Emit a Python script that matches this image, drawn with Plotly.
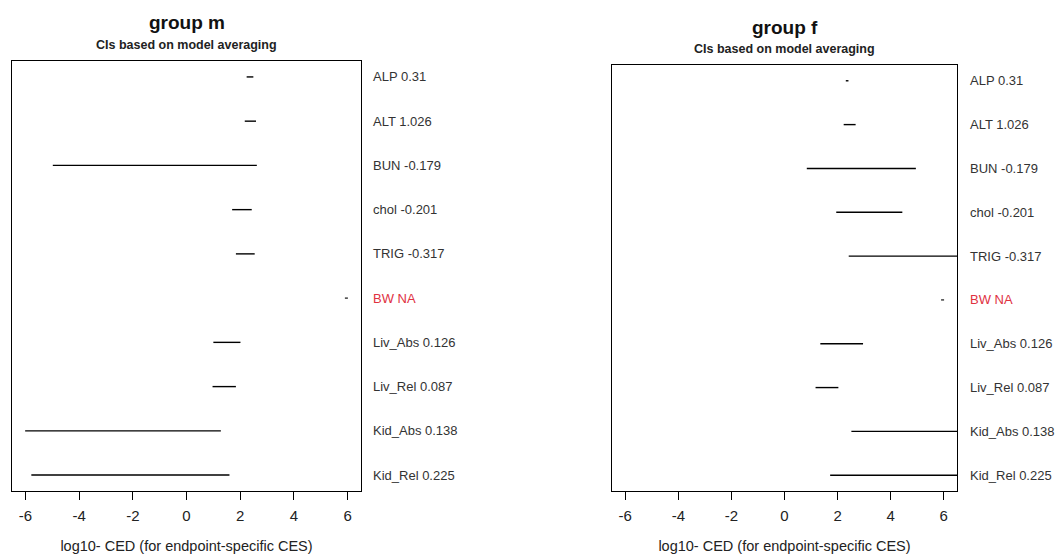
import plotly.graph_objects as go

W, H = 1057, 554

endpoints = ["ALP 0.31", "ALT 1.026", "BUN -0.179", "chol -0.201", "TRIG -0.317",
             "BW NA", "Liv_Abs 0.126", "Liv_Rel 0.087", "Kid_Abs 0.138", "Kid_Rel 0.225"]
label_colors = ["#333333"] * 5 + ["#e0313f"] + ["#333333"] * 4

# group m CI bounds (log10 CED)
m_lower = [2.24, 2.17, -4.98, 1.70, 1.84, 5.90, 1.00, 0.97, -6.01, -5.78]
m_upper = [2.49, 2.59, 2.62, 2.43, 2.54, 6.02, 2.01, 1.84, 1.28, 1.60]
# group f CI bounds (log10 CED)
f_lower = [2.31, 2.23, 0.84, 1.95, 2.42, 5.90, 1.35, 1.17, 2.52, 1.72]
f_upper = [2.41, 2.68, 4.95, 4.44, 7.50, 6.02, 2.96, 2.03, 7.50, 7.50]

x_ticks = [-6, -4, -2, 0, 2, 4, 6]
x_title = "log10- CED (for endpoint-specific CES)"

# layout geometry (pixels)
panels = [
    dict(name="group m", lower=m_lower, upper=m_upper, box=(12, 361, 61, 491),
         title_y=22, sub_y=45, label_x=371),
    dict(name="group f", lower=f_lower, upper=f_upper, box=(612, 957, 65, 491),
         title_y=27, sub_y=49, label_x=968),
]

fig = go.Figure()
annotations = []
font_fam = "Liberation Sans, Arial, sans-serif"

for i, p in enumerate(panels):
    sfx = "" if i == 0 else str(i + 1)
    xa, ya = "x" + sfx, "y" + sfx
    rows = list(range(1, len(endpoints) + 1))
    for r, lab, lo, hi in zip(rows, endpoints, p["lower"], p["upper"]):
        na = lab.endswith("NA")
        fig.add_trace(go.Scatter(x=[lo, hi], y=[r, r], mode="lines",
                                 line=dict(color="#333333" if na else "black",
                                           width=1.4, dash="dot" if na else "solid"),
                                 xaxis=xa, yaxis=ya, showlegend=False,
                                 hoverinfo="skip"))
    x0, x1, yt, yb = p["box"]
    dom_x = [x0 / W, x1 / W]
    dom_y = [(H - yb) / H, (H - yt) / H]
    fig.layout["xaxis" + sfx] = dict(
        domain=dom_x, range=[-6.5, 6.5], anchor=ya,
        tickvals=x_ticks, ticktext=[str(t) for t in x_ticks],
        ticks="outside", ticklen=8, tickwidth=1, tickcolor="black",
        showline=True, mirror=True, linecolor="black", linewidth=1.2,
        showgrid=False, zeroline=False, ticklabelstandoff=3,
        tickfont=dict(family=font_fam, size=15, color="#222222"),
        title=dict(text=x_title, font=dict(family=font_fam, size=14.5, color="#222222"),
                   standoff=17),
    )
    fig.layout["yaxis" + sfx] = dict(
        domain=dom_y, range=[10.36, 0.64], anchor=xa,
        showticklabels=False, ticks="", showgrid=False, zeroline=False,
        showline=True, mirror=True, linecolor="black", linewidth=1.2,
    )
    for r, lab, col in zip(rows, endpoints, label_colors):
        annotations.append(dict(x=p["label_x"] / W, xref="paper", y=r, yref=ya,
                                text=lab, showarrow=False, xanchor="left",
                                yanchor="middle",
                                font=dict(family=font_fam, size=13, color=col)))
    cx = (x0 + x1) / 2 / W
    annotations.append(dict(x=cx, xref="paper", y=1 - p["title_y"] / H, yref="paper",
                            text="<b>" + p["name"] + "</b>", showarrow=False,
                            xanchor="center", yanchor="middle",
                            font=dict(family=font_fam, size=19, color="#111111")))
    annotations.append(dict(x=cx, xref="paper", y=1 - p["sub_y"] / H, yref="paper",
                            text="<b>CIs based on model averaging</b>", showarrow=False,
                            xanchor="center", yanchor="middle",
                            font=dict(family=font_fam, size=12.5, color="#222222")))

fig.update_layout(width=W, height=H, margin=dict(l=0, r=0, t=0, b=0),
                  paper_bgcolor="white", plot_bgcolor="white",
                  annotations=annotations, showlegend=False)

fig.write_html("out.html")
